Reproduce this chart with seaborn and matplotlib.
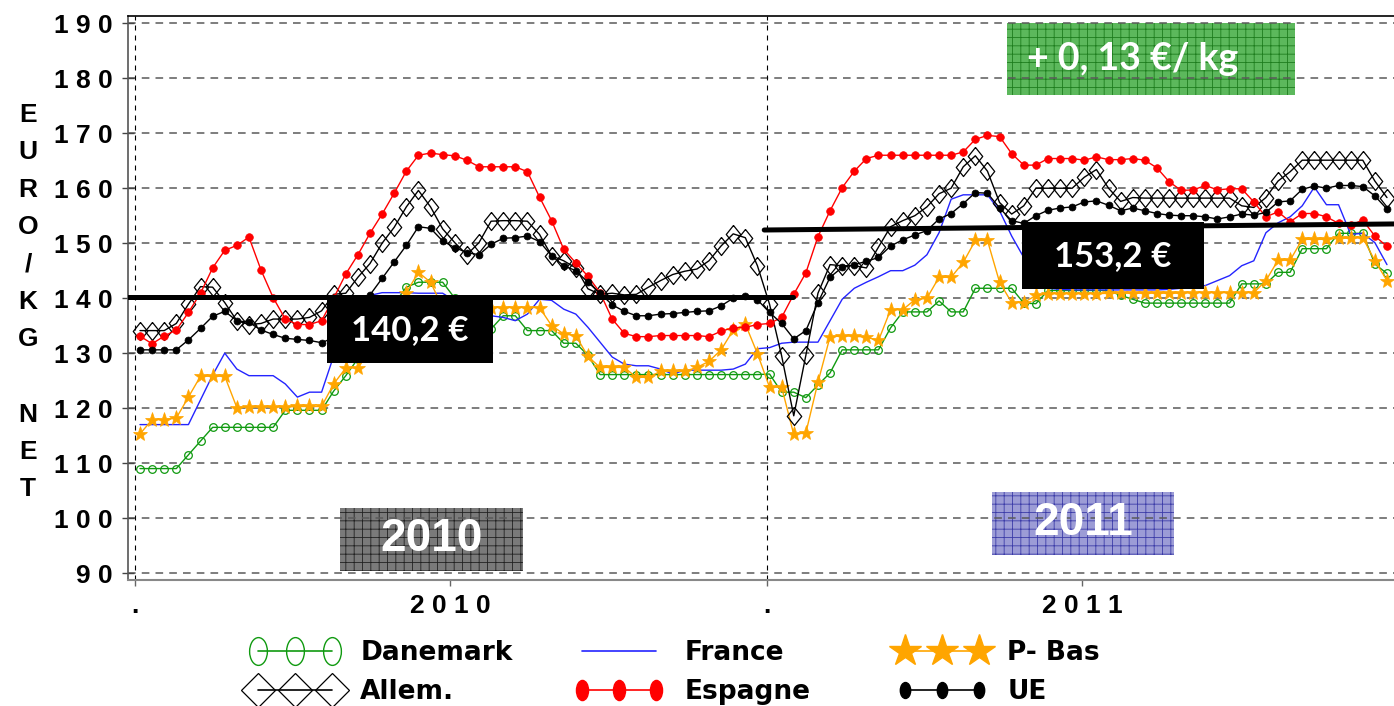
"""
Weekly pig price per country, 2010-2011 (EURO / KG NET).
Recreated with seaborn lineplots on one matplotlib axes.
"""

import numpy as np
import seaborn as sns
import matplotlib.pyplot as plt
from matplotlib.lines import Line2D
from matplotlib.markers import MarkerStyle
from matplotlib.patches import Rectangle
from matplotlib.transforms import Affine2D

sns.set_style("ticks")
plt.rcParams["font.family"] = ["DejaVu Sans"]
plt.rcParams["hatch.linewidth"] = 0.6
for key in ["text.color", "axes.labelcolor", "xtick.labelcolor", "ytick.labelcolor"]:
    plt.rcParams[key] = "black"

# ============================
# Data: 52 weeks of 2010 followed by 52 weeks of 2011
# ============================
danemark = [109.0, 109.0, 109.0, 109.0, 111.5, 114.0, 116.5, 116.5, 116.5, 116.5, 116.5, 116.5, 119.6,
            119.6, 119.6, 119.6, 123.1, 125.9, 129.0, 132.5, 136.0, 139.0, 142.0, 142.9, 142.9, 142.9,
            140.0, 137.0, 134.4, 134.4, 136.8, 136.8, 134.1, 134.1, 134.1, 131.8, 131.8, 129.6, 126.1,
            126.1, 126.1, 126.1, 126.1, 126.1, 126.1, 126.1, 126.1, 126.1, 126.1, 126.1, 126.1, 126.1,
            126.2, 122.9, 122.9, 121.9, 124.2, 126.4, 130.6, 130.6, 130.6, 130.6, 134.6, 137.5, 137.5,
            137.5, 139.5, 137.5, 137.5, 141.8, 141.8, 141.8, 141.8, 139.1, 139.0, 141.4, 141.4, 141.4,
            141.4, 141.4, 141.4, 140.5, 139.8, 139.1, 139.1, 139.1, 139.1, 139.1, 139.1, 139.1, 139.1,
            142.6, 142.6, 142.6, 144.7, 144.7, 149.0, 149.0, 149.0, 151.8, 151.8, 151.8, 146.2, 144.5]

france = [117.0, 117.0, 117.0, 117.0, 117.0, 121.5, 126.0, 130.0, 127.1, 125.9, 125.9, 125.9, 124.4,
          122.0, 122.9, 122.9, 129.5, 134.5, 138.0, 140.5, 141.0, 141.0, 141.0, 140.9, 140.9, 140.9,
          139.5, 138.0, 136.8, 136.8, 136.5, 135.9, 137.1, 139.8, 139.6, 138.0, 137.1, 134.7, 132.0,
          129.3, 128.0, 127.7, 127.7, 127.1, 126.2, 126.9, 126.9, 126.9, 126.9, 127.1, 128.0, 130.8,
          131.0, 131.8, 132.0, 132.0, 132.0, 135.9, 139.8, 141.8, 142.9, 143.9, 145.0, 145.0, 146.0,
          147.9, 151.9, 158.0, 158.8, 158.8, 158.8, 155.9, 151.3, 147.4, 143.5, 141.8, 141.6, 141.5,
          141.5, 141.5, 141.5, 141.5, 141.5, 141.5, 141.5, 141.6, 141.8, 142.0, 142.3, 143.2, 144.1,
          145.9, 146.8, 151.9, 153.7, 154.8, 156.8, 160.2, 157.0, 157.0, 151.6, 151.8, 150.1, 146.1]

p_bas = [115.3, 117.9, 117.9, 118.2, 122.0, 125.8, 125.8, 125.8, 120.1, 120.2, 120.2, 120.2, 120.2,
         120.3, 120.3, 120.3, 124.4, 127.3, 127.3, 130.5, 134.0, 137.5, 141.0, 144.7, 142.9, 138.3,
         138.3, 138.3, 138.3, 138.3, 138.3, 138.3, 138.3, 138.3, 135.0, 133.5, 133.2, 129.4, 127.4,
         127.4, 127.4, 125.6, 125.6, 126.7, 126.7, 126.7, 127.4, 128.5, 130.6, 134.2, 135.3, 129.9,
         123.8, 123.8, 115.2, 115.5, 124.7, 133.0, 133.1, 133.1, 132.9, 132.3, 137.9, 137.9, 139.7,
         140.0, 143.8, 143.8, 146.5, 150.5, 150.5, 142.9, 139.2, 139.2, 140.5, 140.8, 140.8, 140.8,
         140.8, 140.8, 140.9, 140.9, 140.9, 140.9, 140.9, 140.9, 140.9, 141.0, 141.0, 141.0, 141.0,
         141.0, 141.0, 143.2, 146.9, 146.9, 150.7, 150.7, 150.7, 150.9, 150.9, 151.0, 146.8, 143.2]

allem = [134.1, 134.1, 134.1, 135.4, 138.9, 142.1, 142.0, 139.2, 135.9, 135.2, 135.4, 136.2, 136.2,
         136.2, 136.5, 137.7, 140.7, 140.9, 143.8, 146.3, 150.0, 152.9, 156.6, 159.6, 156.6, 152.6,
         150.1, 147.9, 150.1, 154.0, 154.1, 154.1, 154.0, 151.6, 147.7, 146.8, 145.5, 141.7, 140.7,
         140.9, 140.6, 140.7, 142.0, 143.2, 144.3, 144.9, 145.3, 146.8, 149.5, 151.7, 151.0, 145.9,
         138.9, 129.5, 118.6, 129.6, 140.9, 146.1, 145.9, 145.9, 145.5, 149.3, 153.0, 154.1, 155.0,
         156.6, 159.0, 160.0, 163.9, 165.9, 163.1, 157.4, 155.3, 156.8, 160.0, 160.0, 160.0, 160.0,
         162.0, 163.4, 160.0, 157.6, 158.3, 158.2, 158.2, 158.2, 158.2, 158.2, 158.2, 158.2, 158.2,
         156.8, 156.5, 158.3, 161.3, 163.0, 165.1, 165.1, 165.1, 165.1, 165.1, 165.1, 161.3, 158.3]

espagne = [133.1, 131.7, 133.1, 134.2, 137.4, 140.9, 145.5, 148.7, 149.6, 151.1, 145.1, 140.1, 136.2,
           135.2, 135.2, 135.9, 140.0, 144.4, 147.9, 151.8, 155.3, 159.1, 163.1, 166.0, 166.4, 166.1,
           165.9, 165.1, 163.9, 163.9, 163.9, 163.9, 163.0, 158.4, 154.1, 148.9, 146.4, 144.0, 141.0,
           136.2, 133.6, 133.0, 133.0, 133.2, 133.2, 133.2, 133.2, 133.0, 134.0, 134.6, 134.7, 135.2,
           135.4, 136.5, 140.7, 144.6, 151.2, 155.9, 160.1, 163.1, 165.4, 166.0, 166.0, 166.0, 166.0,
           166.0, 166.0, 166.0, 166.6, 168.9, 169.6, 169.4, 166.3, 164.2, 164.2, 165.4, 165.4, 165.4,
           165.1, 165.7, 165.2, 165.2, 165.4, 165.1, 163.7, 161.2, 159.6, 159.7, 160.5, 159.7, 159.9,
           159.9, 157.5, 154.8, 155.7, 153.9, 155.4, 155.4, 154.8, 153.6, 153.3, 154.2, 151.3, 149.4]

ue = [130.6, 130.6, 130.6, 130.6, 132.4, 134.5, 136.7, 137.6, 135.9, 135.6, 134.2, 133.4, 132.7,
      132.5, 132.3, 131.9, 132.8, 135.3, 138.0, 140.6, 143.6, 146.6, 149.6, 153.0, 152.7, 150.4,
      149.2, 148.3, 147.9, 149.8, 150.9, 151.0, 151.3, 150.3, 147.7, 145.9, 145.0, 142.9, 140.9,
      138.8, 137.6, 136.8, 136.8, 137.1, 137.2, 137.4, 137.6, 137.7, 138.6, 140.0, 140.4, 139.7,
      137.4, 135.4, 132.6, 134.1, 139.2, 143.8, 145.6, 146.1, 146.7, 147.4, 149.5, 150.6, 151.5,
      152.3, 154.4, 155.4, 157.2, 159.2, 159.1, 156.4, 154.1, 153.6, 155.0, 156.0, 156.4, 156.6,
      157.5, 157.7, 156.9, 155.9, 156.4, 155.9, 155.4, 155.1, 155.0, 155.0, 154.8, 154.4, 154.8,
      155.3, 155.1, 155.6, 157.5, 157.7, 159.8, 160.4, 160.0, 160.5, 160.5, 160.3, 158.6, 156.2]

weeks = np.arange(len(espagne))

# yearly averages (thick black lines)
avg_2010_x = [-0.99, 53.9]
avg_2010_y = [140.2, 140.2]
avg_2011_x = [51.56, 103.58]
avg_2011_y = [152.4, 153.5]

# axis ticks
year_starts = [-0.4, 51.8]
year_middles = [25.6, 77.8]
year_labels = ["2 0 1 0", "2 0 1 1"]
y_ticks = list(range(90, 191, 10))

GREEN = "#109a10"
BLUE = "#2424ff"
ORANGE = "#ffa500"

W, H = 1394, 706


def oval(sx):
    """Round marker squeezed horizontally (legend style of the source)."""
    return MarkerStyle("o", transform=Affine2D().scale(sx, 1.0))


diamond = [(0, 1), (0.8, 0), (0, -1), (-0.8, 0), (0, 1)]

series = [
    (danemark, dict(color=GREEN, lw=1.0, marker="o", ms=5.5, mfc="none", mec=GREEN, mew=0.9)),
    (france, dict(color=BLUE, lw=1.0)),
    (p_bas, dict(color=ORANGE, lw=1.0, marker="*", ms=11, mfc=ORANGE, mec=ORANGE, mew=0.5)),
    (allem, dict(color="black", lw=1.0, marker=diamond, ms=13, mfc="none", mec="black", mew=0.9)),
    (espagne, dict(color="red", lw=1.0, marker="o", ms=5.5, mfc="red", mec="red", mew=0.5)),
    (ue, dict(color="black", lw=1.0, marker="o", ms=5, mfc="black", mec="black", mew=0.5)),
]

# ============================
# Figure
# ============================
fig = plt.figure(figsize=(W / 100, H / 100), dpi=100)
ax = fig.add_axes([128 / W, 1 - 580 / H, (W - 128) / W, (580 - 16) / H])

for values, style in series:
    sns.lineplot(x=weeks, y=values, ax=ax, errorbar=None, legend=False, zorder=2, **style)

# yearly average lines
sns.lineplot(x=avg_2010_x, y=avg_2010_y, ax=ax, color="black", lw=3.6, errorbar=None, zorder=4)
sns.lineplot(x=avg_2011_x, y=avg_2011_y, ax=ax, color="black", lw=3.6, errorbar=None, zorder=4)


def box(x0, x1, y0, y1, text, fc, size, family, hatch=None, hatch_color=None, z=5, tx=None):
    rect = Rectangle((x0, y0), x1 - x0, y1 - y0, facecolor=fc, lw=0,
                     edgecolor=hatch_color if hatch_color else fc, hatch=hatch, zorder=z)
    ax.add_patch(rect)
    cx = (x0 + x1) / 2 if tx is None else tx
    ax.text(cx, (y0 + y1) / 2, text, color="white", fontsize=size,
            fontweight="bold", family=family, ha="center", va="center", zorder=6)


# black value boxes
box(15.45, 29.16, 128.2, 140.2, "140,2 €", "black", 25, "Lato")
box(72.85, 87.88, 141.7, 153.8, "153,2 €", "black", 25, "Lato")
# hatched boxes (under the grid)
box(71.61, 95.40, 176.96, 190.05, "+ 0, 13 €/ kg", "#5cb85c", 27, "Lato",
    hatch="++", hatch_color="#1e7d1e", z=0.3, tx=82.0)
box(16.52, 31.63, 90.42, 101.87, "2010", "#7a7a7a", 33, "Liberation Sans",
    hatch="++", hatch_color="#222222", z=0.3)
box(70.37, 85.41, 93.33, 104.78, "2011", "#9c9cd6", 33, "Liberation Sans",
    hatch="++", hatch_color="#3c3ca8", z=0.3)

# ============================
# Axes styling
# ============================
ax.set_xlim(-0.99, 103.58)
ax.set_ylim(88.73, 191.33)
ax.set_xlabel("")
ax.set_ylabel("")

ax.set_yticks(y_ticks)
ax.set_yticklabels([" ".join(str(v)) for v in y_ticks])
ax.set_xticks(year_starts + year_middles)
ax.set_xticklabels(["."] * len(year_starts) + year_labels)

ax.set_axisbelow(True)
ax.grid(axis="y", color="#5a5a5a", linestyle=(0, (5, 4)), lw=1.1)
ax.grid(axis="x", visible=False)
for x in year_starts:
    ax.axvline(x, color="black", lw=0.8, linestyle=(0, (4.5, 4.5)), zorder=0.6)

ax.tick_params(axis="y", left=True, direction="inout", length=8.6, width=1,
               color="#444444", pad=6.5, labelsize=19, labelcolor="black")
ax.tick_params(axis="x", bottom=True, direction="out", length=4.3, width=1,
               color="#666666", pad=6, labelsize=19, labelcolor="black")
for lbl in ax.get_xticklabels() + ax.get_yticklabels():
    lbl.set_fontweight("bold")
    lbl.set_fontfamily("Liberation Sans")

ax.spines["right"].set_visible(False)
ax.spines["left"].set_color("#555555")
ax.spines["left"].set_linewidth(1.2)
ax.spines["bottom"].set_color("#888888")
ax.spines["bottom"].set_linewidth(1.5)
ax.spines["top"].set_color("black")
ax.spines["top"].set_linewidth(1.2)

# stacked y label
label_font = dict(fontsize=19, fontweight="bold", family="Liberation Sans", ha="center",
                  va="center", linespacing=1.71, color="black")
fig.text(28 / W, 1 - 227 / H, "\n".join("EURO/KG"), **label_font)
fig.text(28 / W, 1 - 452 / H, "\n".join("NET"), **label_font)

# ============================
# Legend (three columns, two rows)
# ============================
h_dan = Line2D([], [], color=GREEN, lw=1.2, marker=oval(0.64), ms=20, mfc="none", mec=GREEN, mew=1.0)
h_fra = Line2D([], [], color=BLUE, lw=1.2)
h_pb = Line2D([], [], color=ORANGE, lw=1.2, marker="*", ms=24, mfc=ORANGE, mec=ORANGE)
h_all = Line2D([], [], color="black", lw=1.2, marker="D", ms=17, mfc="none", mec="black", mew=0.9)
h_esp = Line2D([], [], color="red", lw=1.2, marker=oval(0.6), ms=14.5, mfc="red", mec="red")
h_ue = Line2D([], [], color="black", lw=1.2, marker=oval(0.65), ms=11.5, mfc="black", mec="black")

columns = [
    (250, [h_dan, h_all], ["Danemark", "Allem."]),
    (574, [h_fra, h_esp], ["France", "Espagne"]),
    (897, [h_pb, h_ue], ["P- Bas", "UE"]),
]
for left, handles, labels in columns:
    leg = fig.legend(handles, labels, loc="upper left", bbox_to_anchor=(left / W, 1 - 640 / H),
                     frameon=False, prop={"family": "DejaVu Sans", "weight": "bold", "size": 19},
                     handlelength=3.4, handletextpad=0.78, labelspacing=0.5,
                     borderpad=0, borderaxespad=0, numpoints=3)
    for txt in leg.get_texts():
        txt.set_color("black")

fig.savefig("out.png", dpi=100)
